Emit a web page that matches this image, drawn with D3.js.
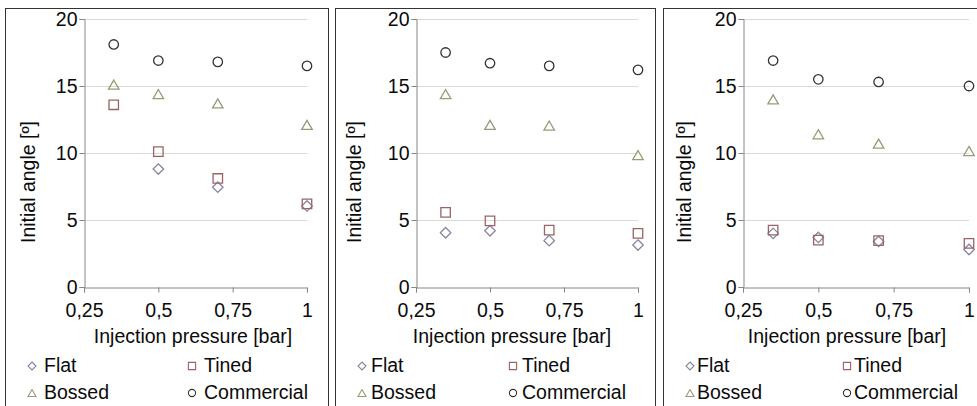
<!DOCTYPE html>
<html>
<head>
<meta charset="utf-8">
<script src="https://cdn.jsdelivr.net/npm/d3@7"></script>
<style>
html,body{margin:0;padding:0;background:#fff;}
svg{display:block;font-family:"Liberation Sans",Arial,sans-serif;}
</style>
</head>
<body>
<svg id="chart" width="977" height="406"></svg>
<script>
// ---- data ----
const pressures = [0.35, 0.5, 0.7, 1.0];
const xTicks = [0.25, 0.5, 0.75, 1];
const xTickLabels = ["0,25", "0,5", "0,75", "1"];
const yTicks = [0, 5, 10, 15, 20];
const seriesNames = ["Flat", "Tined", "Bossed", "Commercial"];
// one row per panel (left, middle, right)
const flatValues = [
  [null, 8.8, 7.45, 6.05],
  [4.05, 4.2, 3.46, 3.13],
  [4.0, 3.7, 3.4, 2.8]
];
const tinedValues = [
  [13.6, 10.1, 8.1, 6.2],
  [5.57, 4.93, 4.25, 4.0],
  [4.25, 3.5, 3.46, 3.26]
];
const bossedValues = [
  [15.1, 14.4, 13.7, 12.1],
  [14.4, 12.1, 12.05, 9.85],
  [14.0, 11.4, 10.7, 10.15]
];
const commercialValues = [
  [18.1, 16.9, 16.8, 16.5],
  [17.5, 16.7, 16.5, 16.2],
  [16.9, 15.5, 15.3, 15.0]
];
const xTitle = "Injection pressure [bar]";
const yTitle = "Initial angle [º]";

// ---- layout / style ----
const panels = [
  {bx0: 5, bx1: 328, ax0: 84, ax1: 307, xt: 193, yt: 28, lx0: 32, lx1: 192, lg: 12},
  {bx0: 335, bx1: 655, ax0: 416, ax1: 638, xt: 512, yt: 354, lx0: 362, lx1: 513, lg: 9},
  {bx0: 663, bx1: 990, ax0: 743, ax1: 969, xt: 847, yt: 684, lx0: 690, lx1: 847, lg: 7}
];
const yTop = 19, yBottom = 287, borderTop = 8;
const colors = {Flat: "#8a84a3", Tined: "#9a6464", Bossed: "#9a9a78", Commercial: "#333333"};
const fontSize = 19.5;
const textColor = "#0a0a0a";

const svg = d3.select("#chart");
const y = d3.scaleLinear().domain([0, 20]).range([yBottom, yTop]);

function markerPath(name, s) {
  if (name === "Flat") {
    const r = s / 2;
    return `M0,${-r}L${r},0L0,${r}L${-r},0Z`;
  }
  if (name === "Tined") {
    const r = s * 0.45;
    return `M${-r},${-r}H${r}V${r}H${-r}Z`;
  }
  if (name === "Bossed") {
    const r = s / 2, h = s * 0.866;
    return `M0,${-h / 2}L${r},${h / 2}L${-r},${h / 2}Z`;
  }
  return d3.symbol(d3.symbolCircle, Math.PI * (s * 0.45) * (s * 0.45))();
}

panels.forEach((p, pi) => {
  const g = svg.append("g");
  const x = d3.scaleLinear().domain([0.25, 1]).range([p.ax0, p.ax1]);

  // border
  g.append("rect").attr("x", p.bx0 + 0.5).attr("y", borderTop + 0.5)
    .attr("width", p.bx1 - p.bx0).attr("height", 420)
    .attr("fill", "none").attr("stroke", "#333").attr("stroke-width", 1);

  // gridlines
  g.append("g").selectAll("line").data(yTicks.filter(v => v > 0)).join("line")
    .attr("x1", p.ax0).attr("x2", p.ax1)
    .attr("y1", d => Math.round(y(d)) + 0.5).attr("y2", d => Math.round(y(d)) + 0.5)
    .attr("stroke", "#d9d9d9").attr("stroke-width", 1);

  // y axis
  const ya = g.append("g").attr("transform", `translate(${p.ax0 + 0.5},0)`)
    .call(d3.axisLeft(y).tickValues(yTicks).tickSize(5).tickPadding(2));
  // x axis
  const xa = g.append("g").attr("transform", `translate(0,${yBottom + 0.5})`)
    .call(d3.axisBottom(x).tickValues(xTicks).tickSize(5).tickPadding(11)
      .tickFormat((d, i) => xTickLabels[i]));
  [ya, xa].forEach(a => {
    a.select(".domain").attr("stroke", "#868686");
    a.selectAll(".tick line").attr("stroke", "#868686");
    a.selectAll("text").attr("font-size", fontSize).attr("fill", textColor)
      .attr("font-family", "Liberation Sans, Arial, sans-serif");
  });

  // axis titles
  g.append("text").attr("x", p.xt).attr("y", 343).attr("text-anchor", "middle")
    .attr("font-size", fontSize).attr("fill", textColor).text(xTitle);
  g.append("text").attr("transform", `translate(${p.yt + 7},182) rotate(-90)`)
    .attr("text-anchor", "middle").attr("font-size", fontSize).attr("fill", textColor).text(yTitle);

  // series
  const all = [flatValues[pi], tinedValues[pi], bossedValues[pi], commercialValues[pi]];
  seriesNames.forEach((name, si) => {
    const pts = pressures.map((px, i) => ({x: px, v: all[si][i]})).filter(d => d.v != null);
    g.append("g").selectAll("path").data(pts).join("path")
      .attr("d", markerPath(name, 10.5))
      .attr("transform", d => `translate(${x(d.x)},${y(d.v)})`)
      .attr("fill", "none").attr("stroke", colors[name]).attr("stroke-width", 1.3);
  });

  // legend
  const lpos = [
    {n: "Flat", x: p.lx0, y: 372},
    {n: "Tined", x: p.lx1, y: 372},
    {n: "Bossed", x: p.lx0, y: 399},
    {n: "Commercial", x: p.lx1, y: 399}
  ];
  lpos.forEach(l => {
    g.append("path").attr("d", markerPath(l.n, 8))
      .attr("transform", `translate(${l.x},${l.y - 6})`)
      .attr("fill", "none").attr("stroke", colors[l.n]).attr("stroke-width", 1.1);
    g.append("text").attr("x", l.x + p.lg).attr("y", l.y)
      .attr("font-size", fontSize).attr("fill", textColor).text(l.n);
  });
});
</script>
</body>
</html>
